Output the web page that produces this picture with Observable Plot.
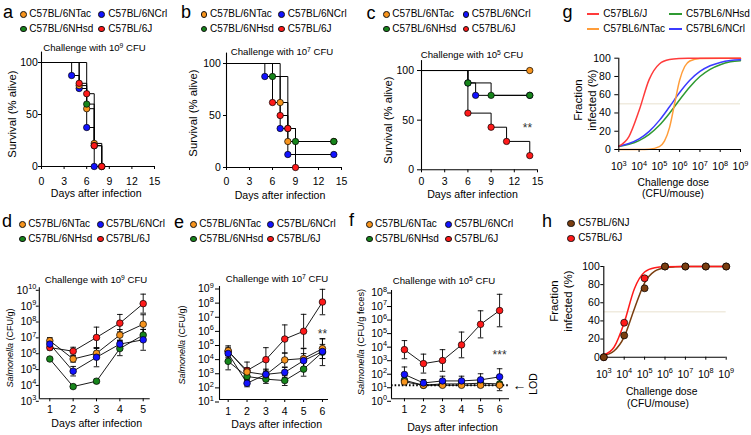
<!DOCTYPE html>
<html><head><meta charset="utf-8">
<script src="https://cdn.jsdelivr.net/npm/d3@7"></script>
<script src="https://cdn.jsdelivr.net/npm/@observablehq/plot@0.6"></script>
<style>
html,body{margin:0;padding:0;background:#fff;overflow:hidden;}
#root{position:relative;width:751px;height:435px;overflow:hidden;background:#fff;font-family:"Liberation Sans",Arial,sans-serif;color:#000;}
.t{position:absolute;white-space:nowrap;line-height:1;z-index:5;}
.sup{font-size:0.7em;vertical-align:0.5em;line-height:0;}
.ld{position:absolute;border-radius:50%;border:0.8px solid #111;box-sizing:border-box;z-index:5;}
.ll{position:absolute;height:2px;z-index:5;}
</style></head><body><div id="root"></div>
<script>
// ================= DATA =================
const strains = ["C57BL/6NTac","C57BL/6NCrl","C57BL/6NHsd","C57BL/6J"];
const strainColors = ["#f7941d","#1212ff","#17851b","#ff1a1a"];
const kmTicks = [0,3,6,9,12,15];
const kmYTicks = [0,50,100];
const kmTitles = ["Challenge with 10^9 CFU","Challenge with 10^7 CFU","Challenge with 10^5 CFU"];
const daysLbl = "Days after infection";

// a: 10^9 CFU, survival steps [day, % alive]
const aNTac = [[0,100],[5,77.8],[6,55.6],[7,22.2],[8,0]];
const aNCrl = [[0,100],[4,87.5],[5,75],[6,37.5],[7,0]];
const aNHsd = [[0,100],[6,60],[7,20],[8,0]];
const aJ    = [[0,100],[5,80],[6,70],[7,20],[8,0]];
// b: 10^7 CFU
const bNTac = [[0,100],[7,62.5],[8,25],[14,25]];
const bNCrl = [[0,100],[5,87.5],[7,37.5],[8,12.5],[14,12.5]];
const bNHsd = [[0,100],[6,87.5],[8,37.5],[9,25],[14,25]];
const bJ    = [[0,100],[6,62.5],[7,50],[8,37.5],[9,0]];
// c: 10^5 CFU
const cNTac = [[0,100],[14,100]];
const cNCrl = [[0,100],[6,87.5],[7,75],[14,75]];
const cNHsd = [[0,100],[6,87.5],[9,75],[14,75]];
const cJ    = [[0,100],[6,57.1],[9,42.9],[11,28.6],[14,14.3]];
const cStars = [{day:13.7, pct:45, label:"**"}];

// d: fecal Salmonella, 10^9 CFU (log10 CFU/g, mean and error)
const cfuTitles = ["Challenge with 10^9 CFU","Challenge with 10^7 CFU","Challenge with 10^5 CFU"];
const dDays = [1,2,3,4,5];
const dNTac = [6.66,5.51,5.87,7.02,7.70], dNTacErr = [0.2,0.2,0.3,0.35,0.6];
const dNCrl = [6.45,4.74,5.62,6.45,6.72], dNCrlErr = [0.2,0.3,0.6,0.25,0.66];
const dNHsd = [5.51,3.77,4.11,6.17,7.02], dNHsdErr = [0.1,0.12,0.12,0.45,0.35];
const dJ    = [6.23,6.00,6.87,7.77,9.00], dJErr    = [0.15,0.25,0.65,0.55,0.6];
// e: 10^7 CFU
const eDays = [1,2,3,4,5,6];
const eNTac = [4.45,2.95,2.75,3.80,3.90,4.60], eNTacErr = [0.35,0.3,0.4,0.5,0.7,0.7];
const eNCrl = [4.26,2.15,2.78,2.92,3.75,4.40], eNCrlErr = [0.3,0.25,0.3,0.35,0.5,0.5];
const eNHsd = [3.70,2.63,2.44,2.34,3.15,4.35], eNHsdErr = [0.6,0.3,0.3,0.35,0.5,0.95];
const eJ    = [4.40,3.05,3.82,5.28,5.83,7.90], eJErr    = [0.3,0.6,0.85,1.0,1.2,0.9];
const eStars = [{day:6, cfu:10**5.85, label:"**"}];
// f: 10^5 CFU (log10 CFU/g feces)
const fDays = [1,2,3,4,5,6];
const fNTac = [1.25,1.0,1.0,1.0,1.0,1.0], fNTacErr = [0.2,0,0,0,0,0];
const fNCrl = [1.80,1.17,1.32,1.32,1.40,1.62], fNCrlErr = [0.55,0.25,0.35,0.35,0.45,0.6];
const fNHsd = [1.37,1.0,1.1,1.1,1.15,1.1], fNHsdErr = [0.25,0.1,0.2,0.2,0.3,0.5];
const fJ    = [3.63,2.60,2.83,3.98,5.50,6.52], fJErr    = [0.67,0.7,0.8,0.95,1.0,1.2];
const fStars = [{day:6, cfu:10**3.45, label:"***"}];
const LOD = 10;

// g: fitted dose-response curves [log10 dose, % infected]
const gStrains = ["C57BL6/J","C57BL6/NHsd","C57BL6/NTac","C57BL6/NCrl"];
const gColors  = ["#ff3b3b","#2f9a32","#ff9d3a","#3b3bff"];
const gJ    = [[3,3.6],[3.5,14.2],[4,42.6],[4.5,76.8],[5,93.7],[5.5,98.5],[6,99.6],[6.5,99.9],[7,100],[8,100],[9,100]];
const gNHsd = [[3,3.2],[3.5,5.7],[4,9.8],[4.5,16.6],[5,26.5],[5.5,39.7],[6,54.5],[6.5,68.5],[7,79.9],[7.5,87.8],[8,92.9],[8.5,96.0],[9,97.3]];
const gNTac = [[3,0],[4,0.1],[4.5,0.4],[5,3.1],[5.25,9.1],[5.5,24],[5.75,50],[6,76],[6.25,90.9],[6.5,96.9],[7,99.7],[8,100],[9,100]];
const gNCrl = [[3,3.6],[3.5,6.5],[4,11.6],[4.5,19.9],[5,31.9],[5.5,46.8],[6,62.4],[6.5,75.8],[7,85.5],[7.5,91.7],[8,95.4],[8.5,97.5],[9,98.2]];
const doseTicks = [3,4,5,6,7,8,9];
const fracTicks = [0,20,40,60,80,100];

// h: C57BL/6NJ vs C57BL/6J
const hStrains = ["C57BL/6NJ","C57BL/6J"];
const hColors  = ["#7a3e10","#ff1a1a"];
const hNJpts = [[3,0],[4,24],[5,76],[6,100],[7,100],[8,100],[9,100]];
const hJpts  = [[3,0],[4,38],[5,87],[6,100],[7,100],[8,100],[9,100]];
const hNJfit = [[3,1.8],[3.5,6.8],[4,22.4],[4.5,53.4],[5,82],[5.5,94.8],[6,98.6],[6.5,99.6],[7,100],[8,100],[9,100]];
const hJfit  = [[3,2.4],[3.5,11],[4,38.1],[4.5,75.5],[5,93.9],[5.5,98.7],[6,99.7],[7,100],[8,100],[9,100]];

// ================= HELPERS =================
const root = document.getElementById("root");
const FONT = '"Liberation Sans", Arial, sans-serif';
const NARROW = '"Liberation Sans Narrow", "Liberation Sans", Arial, sans-serif';
const supHTML = s => s.replace(/\^(\d+)/g, '<span class="sup">$1</span>');

function T(x, y, html, o = {}) {
  const d = document.createElement("div");
  d.className = "t";
  d.innerHTML = html;
  const s = d.style;
  s.left = x + "px"; s.top = y + "px";
  s.fontSize = (o.size || 10.5) + "px";
  s.fontFamily = o.family || FONT;
  if (o.color) s.color = o.color;
  const ax = o.anchor === "start" ? "0" : o.anchor === "end" ? "-100%" : "-50%";
  s.transform = `translate(${ax},-50%)` + (o.rotate ? ` rotate(${o.rotate}deg)` : "");
  root.appendChild(d);
  return d;
}
function dotKey(cx, cy, color, dia = 6.8) {
  const d = document.createElement("div");
  d.className = "ld";
  Object.assign(d.style, {left: (cx - dia/2) + "px", top: (cy - dia/2) + "px", width: dia + "px", height: dia + "px", background: color});
  root.appendChild(d);
}
function lineKey(x1, x2, cy, color) {
  const d = document.createElement("div");
  d.className = "ll";
  Object.assign(d.style, {left: x1 + "px", top: Math.round(cy - 1) + "px", width: (x2 - x1) + "px", background: color});
  root.appendChild(d);
}
function legend4(c1, t1, c2, t2, y1, y2) {
  const cols = [[c1,t1],[c2,t2],[c1,t1],[c2,t2]];
  const rows = [y1,y1,y2,y2];
  strains.forEach((s,i) => {
    dotKey(cols[i][0], rows[i], strainColors[i]);
    T(cols[i][1], rows[i], s, {size: 10, family: NARROW, anchor: "start"});
  });
}
function supify(svg) {
  svg.querySelectorAll("text").forEach(t => {
    const s = t.textContent;
    const m = s.match(/^(.*?)\^(\S+)$/);
    if (!m) return;
    t.textContent = "";
    t.appendChild(document.createTextNode(m[1]));
    const ts = document.createElementNS("http://www.w3.org/2000/svg", "tspan");
    ts.setAttribute("style", "font-size:70%");
    ts.setAttribute("dy", "-0.6em");
    ts.textContent = m[2];
    t.appendChild(ts);
  });
}
function mount(svg, left, top) {
  svg.style.position = "absolute";
  svg.style.left = left + "px";
  svg.style.top = top + "px";
  svg.style.zIndex = "1";
  root.appendChild(svg);
  supify(svg);
}
const baseStyle = {fontFamily: FONT, fontSize: "10.5px", background: "transparent", overflow: "visible", color: "#000"};
const expFmt = d => "10^" + Math.round(Math.log10(d));
const intFmt = d3.format("d");

// ================= KAPLAN-MEIER (a, b, c) =================
function kmPlot(series, g, extra = []) {
  const order = [1,0,2,3]; // draw NCrl, NTac, NHsd, J
  return Plot.plot({
    width: g.w, height: g.h,
    marginLeft: g.mL, marginRight: g.mR, marginTop: g.mT, marginBottom: g.mB,
    style: baseStyle,
    x: {domain: [0,15]}, y: {domain: [0,110]},
    marks: [
      ...order.map(i => Plot.line(series[i], {x: d => d[0], y: d => d[1], curve: "step-after", stroke: "#000", strokeWidth: 1})),
      Plot.ruleX([0], {stroke: "#000", strokeWidth: 1.1}),
      Plot.ruleY([0], {stroke: "#000", strokeWidth: 1.1}),
      Plot.axisX({ticks: kmTicks, tickFormat: intFmt, tickSize: 3, tickPadding: g.xpad, label: null}),
      Plot.axisY({ticks: kmYTicks, tickFormat: intFmt, tickSize: g.yt, tickPadding: g.ypad, label: null}),
      ...order.map(i => Plot.dot(series[i].slice(1), {x: d => d[0], y: d => d[1], r: 3.2, fill: strainColors[i], stroke: "#000", strokeWidth: 0.7})),
      ...extra
    ]
  });
}

mount(kmPlot([aNTac,aNCrl,aNHsd,aJ], {w:175,h:165,mL:41,mR:21,mT:11.6,mB:39,xpad:8,yt:3,ypad:0.7}), 0, 40);
mount(kmPlot([bNTac,bNCrl,bNHsd,bJ], {w:175,h:165,mL:46,mR:14,mT:12.6,mB:38,xpad:6.7,yt:3,ypad:2.7}), 180, 40);
mount(kmPlot([cNTac,cNCrl,cNHsd,cJ], {w:195,h:165,mL:61,mR:18,mT:20.1,mB:35.7,xpad:4.4,yt:4,ypad:3.5},
  [Plot.text(cStars, {x: "day", y: "pct", text: "label", fontSize: 12, fill: "#333", dy: 3})]), 360, 40);

// ================= CFU time courses (d, e, f) =================
const capSym = {draw(ctx, size) { const w = Math.sqrt(size / Math.PI); ctx.moveTo(-w, 0); ctx.lineTo(w, 0); }};
function cfuPlot(days, series, g, extra = []) {
  const order = [2,3,0,1]; // NHsd, J, NTac, NCrl
  const sets = series.map(([vals, errs]) => days.map((d, i) => ({day: d, v: 10 ** vals[i], lo: 10 ** (vals[i] - errs[i]), hi: 10 ** (vals[i] + errs[i])})));
  const yT = d3.range(Math.log10(g.yd[0]), Math.log10(g.yd[1]) + 1).map(e => 10 ** e);
  return Plot.plot({
    width: g.w, height: g.h,
    marginLeft: g.mL, marginRight: g.mR, marginTop: g.mT, marginBottom: g.mB,
    style: baseStyle,
    x: {domain: g.xd}, y: {type: "log", domain: g.yd},
    marks: [
      ...extra,
      ...order.map(i => Plot.ruleX(sets[i].filter(d => d.hi > d.lo), {x: "day", y1: "lo", y2: "hi", stroke: "#000", strokeWidth: 0.9})),
      ...order.map(i => Plot.dot(sets[i].filter(d => d.hi > d.lo), {x: "day", y: "hi", symbol: capSym, r: 2.8, fill: "none", stroke: "#000", strokeWidth: 0.9})),
      ...order.map(i => Plot.dot(sets[i].filter(d => d.hi > d.lo), {x: "day", y: "lo", symbol: capSym, r: 2.8, fill: "none", stroke: "#000", strokeWidth: 0.9})),
      ...order.map(i => Plot.line(sets[i], {x: "day", y: "v", stroke: "#000", strokeWidth: 0.9})),
      Plot.ruleX([g.xd[0]], {stroke: "#000", strokeWidth: 1.1}),
      Plot.ruleY([g.yd[0]], {stroke: "#000", strokeWidth: 1.1}),
      Plot.axisX({ticks: days, tickFormat: intFmt, tickSize: 3, tickPadding: g.xpad, label: null}),
      Plot.axisY({ticks: yT, tickFormat: expFmt, tickSize: g.yt, tickPadding: g.ypad, dy: 2.5, label: null}),
      ...order.map(i => Plot.dot(sets[i], {x: "day", y: "v", r: 3.3, fill: strainColors[i], stroke: "#000", strokeWidth: 0.7})),
      ...(g.after || [])
    ]
  });
}

mount(cfuPlot(dDays, [[dNTac,dNTacErr],[dNCrl,dNCrlErr],[dNHsd,dNHsdErr],[dJ,dJErr]],
  {w:175,h:165,mL:38.8,mR:25.3,mT:17.3,mB:36.7,xd:[0.55,5.3],yd:[1e3,1e10],xpad:4,yt:3,ypad:0}), 0, 270);
mount(cfuPlot(eDays, [[eNTac,eNTacErr],[eNCrl,eNCrlErr],[eNHsd,eNHsdErr],[eJ,eJErr]],
  {w:175,h:165,mL:39,mR:27,mT:16,mB:36,xd:[0.54,6.32],yd:[1e1,1e9],xpad:5,yt:4,ypad:1.7,
   after:[Plot.text(eStars, {x: "day", y: "cfu", text: "label", fontSize: 12, fill: "#333", dy: 3})]}), 180, 270);
mount(cfuPlot(fDays, [[fNTac,fNTacErr],[fNCrl,fNCrlErr],[fNHsd,fNHsdErr],[fJ,fJErr]],
  {w:190,h:165,mL:31,mR:41,mT:20,mB:36.7,xd:[0.32,6.52],yd:[1e0,1e8],xpad:4,yt:4,ypad:0.5,
   after:[Plot.text(fStars, {x: "day", y: "cfu", text: "label", fontSize: 12, fill: "#333", dy: 3})]},
  [Plot.ruleY([LOD], {stroke: "#000", strokeWidth: 2.2, strokeDasharray: "1.6,2"})]), 360, 270);

// ================= Dose response (g, h) =================
const doseX = d => 10 ** d[0];
mount(Plot.plot({
  width: 191, height: 140, marginLeft: 58.3, marginRight: 11, marginTop: 17.7, marginBottom: 31,
  style: baseStyle,
  x: {type: "log", domain: [1e3, 1e9]}, y: {domain: [0, 100]},
  marks: [
    Plot.ruleY([50], {stroke: "#e8e1cf", strokeWidth: 1}),
    Plot.line(gNHsd, {x: doseX, y: d => d[1], curve: "monotone-x", stroke: gColors[1], strokeWidth: 1.5}),
    Plot.line(gNCrl, {x: doseX, y: d => d[1], curve: "monotone-x", stroke: gColors[3], strokeWidth: 1.5}),
    Plot.line(gNTac, {x: doseX, y: d => d[1], curve: "monotone-x", stroke: gColors[2], strokeWidth: 1.5}),
    Plot.line(gJ,    {x: doseX, y: d => d[1], curve: "monotone-x", stroke: gColors[0], strokeWidth: 1.5}),
    Plot.ruleX([1e3], {stroke: "#000", strokeWidth: 1.1}),
    Plot.ruleY([0], {stroke: "#000", strokeWidth: 1.1}),
    Plot.axisX({ticks: doseTicks.map(e => 10 ** e), tickFormat: expFmt, tickSize: 3, tickPadding: 10.5, label: null}),
    Plot.axisY({ticks: fracTicks, tickFormat: intFmt, tickSize: 4, tickPadding: 4, label: null})
  ]
}), 560, 40);

mount(Plot.plot({
  width: 191, height: 140, marginLeft: 43.3, marginRight: 25.3, marginTop: 16, marginBottom: 33.3,
  style: baseStyle,
  x: {type: "log", domain: [1e3, 1e9]}, y: {domain: [0, 100]},
  marks: [
    Plot.ruleY([50], {stroke: "#e8e1cf", strokeWidth: 1}),
    Plot.ruleX([1e3], {stroke: "#000", strokeWidth: 1.1}),
    Plot.ruleY([0], {stroke: "#000", strokeWidth: 1.1}),
    Plot.line(hNJfit, {x: doseX, y: d => d[1], curve: "monotone-x", stroke: hColors[0], strokeWidth: 1.5}),
    Plot.line(hJfit,  {x: doseX, y: d => d[1], curve: "monotone-x", stroke: hColors[1], strokeWidth: 1.5}),
    Plot.axisX({ticks: doseTicks.map(e => 10 ** e), tickFormat: expFmt, tickSize: 3, tickPadding: 10, label: null}),
    Plot.axisY({ticks: fracTicks, tickFormat: intFmt, tickSize: 3, tickPadding: 1, label: null}),
    Plot.dot(hJpts,  {x: doseX, y: d => d[1], r: 3.5, fill: hColors[1], stroke: "#000", strokeWidth: 0.7}),
    Plot.dot(hNJpts, {x: doseX, y: d => d[1], r: 3.5, fill: hColors[0], stroke: "#000", strokeWidth: 0.7})
  ]
}), 560, 250);

// ================= TEXT: letters, legends, titles, axis titles =================
const L = 18;
T(8, 12, "a", {size: L}); T(186, 12, "b", {size: L}); T(371, 13, "c", {size: L}); T(567.5, 12, "g", {size: L});
T(7, 221, "d", {size: L}); T(179, 222, "e", {size: L}); T(351.5, 220, "f", {size: L}); T(547, 221, "h", {size: L});

legend4(23.3, 29.3, 101.7, 108.3, 14.3, 29);
legend4(204, 210, 281.7, 287.7, 14.3, 29);
legend4(386.7, 392.3, 466, 471.7, 14.3, 29);
legend4(22.3, 28.3, 100.7, 106, 224.3, 239);
legend4(193.3, 199.3, 270.7, 276.7, 224.3, 239);
legend4(369.3, 375, 448.3, 454.3, 224.3, 239);

// g legend (lines)
[[0,587,599,603.3,14.3],[1,669,681.7,686,14.3],[2,587,599,603.3,29.3],[3,669,681.7,686,29.3]].forEach(([i,x1,x2,tx,y]) => {
  lineKey(x1, x2, y, gColors[i]);
  T(tx, y, gStrains[i], {size: 10, family: NARROW, anchor: "start"});
});
// h legend
dotKey(571, 223.3, hColors[0], 7.2); T(578.3, 223.3, hStrains[0], {size: 10, family: NARROW, anchor: "start"});
dotKey(571, 238.3, hColors[1], 7.2); T(578.3, 238.3, hStrains[1], {size: 10, family: NARROW, anchor: "start"});

// titles
T(94.5, 48, supHTML(kmTitles[0]), {size: 9.6});
T(282, 52, supHTML(kmTitles[1]), {size: 9.6});
T(472, 55, supHTML(kmTitles[2]), {size: 9.6});
T(96, 280, supHTML(cfuTitles[0]), {size: 9.6});
T(277, 279, supHTML(cfuTitles[1]), {size: 9.6});
T(444, 281, supHTML(cfuTitles[2]), {size: 9.6});

// x-axis titles
T(96.2, 193, daysLbl, {size: 10.6});
T(280, 194.5, daysLbl, {size: 10.6});
T(472.5, 194, daysLbl, {size: 10.6});
T(96.7, 422.5, daysLbl, {size: 10.6});
T(276.7, 423.5, daysLbl, {size: 10.6});
T(452.5, 426.5, daysLbl, {size: 10.6});

// y-axis titles
const survLbl = "Survival (% alive)";
T(12.5, 114, survLbl, {size: 11.3, rotate: -90});
T(194, 113, survLbl, {size: 11.3, rotate: -90});
T(389, 120, survLbl, {size: 11.3, rotate: -90});
T(10, 347.5, "<i>Salmonella</i> (CFU/g)", {size: 9, rotate: -90});
T(182, 345, "<i>Salmonella</i> (CFU/g)", {size: 9, rotate: -90});
T(362, 342, "<i>Salmonella</i> (CFU/g feces)", {size: 9.3, rotate: -90});
// LOD marker
T(519.5, 384.8, "\u2190", {size: 14});
T(533, 384, "LOD", {size: 10.5, rotate: -90});
// g / h axis titles
T(673.3, 182.7, "Challenge dose", {size: 10.3}); T(673, 194, "(CFU/mouse)", {size: 10.3});
T(579, 100, "Fraction", {size: 11.5, rotate: -90}); T(593, 100, "infected (%)", {size: 11.5, rotate: -90});
T(661.7, 391.7, "Challenge dose", {size: 10.3}); T(658, 404, "(CFU/mouse)", {size: 10.3});
T(555, 301, "Fraction", {size: 11.5, rotate: -90}); T(569, 301, "infected (%)", {size: 11.5, rotate: -90});
</script></body></html>
